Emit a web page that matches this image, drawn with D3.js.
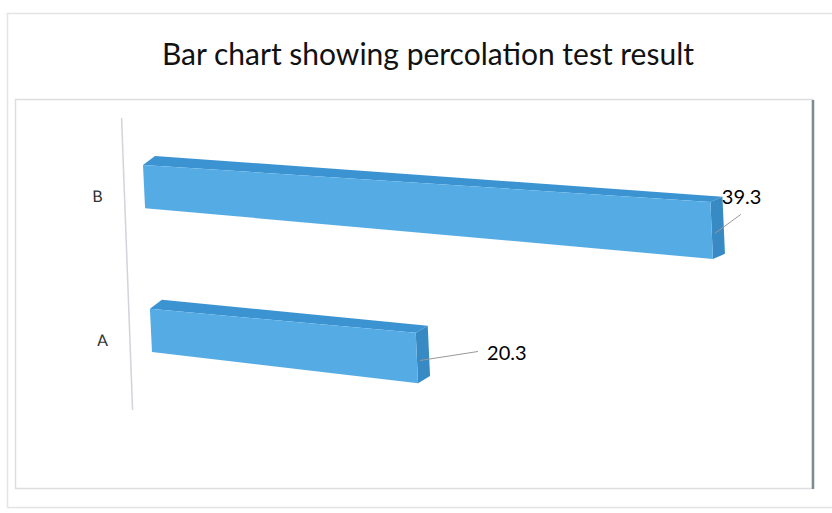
<!DOCTYPE html>
<html><head><meta charset="utf-8">
<script src="https://cdn.jsdelivr.net/npm/d3@7"></script>
<style>body{margin:0;background:#fff;}</style>
</head><body>
<svg id="chart" width="832" height="513"></svg>
<script>
// ---- data ----
const title = "Bar chart showing percolation test result";
const categories = ["B", "A"];          // top to bottom
const values = [39.3, 20.3];
const valueLabels = ["39.3", "20.3"];

// ---- layout / style ----
const svg = d3.select("#chart");
const font = "Lato, 'Open Sans', sans-serif";
const colors = { front: "#55ace5", top: "#3b94d1", end: "#378ac3" };

// flat scales
const xScale = d3.scaleLinear().domain([0, 40]).range([0, 448]);
const yScale = d3.scaleBand().domain(categories).range([93, 424])
  .paddingInner(0.7).paddingOuter(0.5);

// perspective projection parameters
const P = { c: 135.06, b: 0.0481, g: -0.000407, s0: 0.0839, s1: 0.000149, k: 0.000732 };
const depth = { dx: 12, dy0: -9, dySlope: 0.0068 };
const refRow = yScale(categories[0]);

function projX(xs, v) { return (xs + P.b * v + P.c) / (1 + P.g * xs); }
function projY(xs, v, rowTop) {
  return v + xs * (P.s0 + P.s1 * (rowTop - refRow)) + (v - rowTop) * P.k * xs;
}
function pt(xs, v, rowTop) { return [projX(xs, v), projY(xs, v, rowTop)]; }
function back(p, x0) {
  return [p[0] + depth.dx, p[1] + depth.dy0 + depth.dySlope * (p[0] - x0)];
}

// card & panel
svg.append("rect").attr("x", 7.5).attr("y", 13.5).attr("width", 850).attr("height", 494)
  .attr("fill", "#fff").attr("stroke", "#e4e4e4").attr("stroke-width", 1.5);
svg.append("rect").attr("x", 15.5).attr("y", 99.5).attr("width", 797).attr("height", 389)
  .attr("fill", "#fff").attr("stroke", "#dedee2").attr("stroke-width", 1.5);
svg.append("line").attr("x1", 813).attr("x2", 813).attr("y1", 100).attr("y2", 489)
  .attr("stroke", "#7d8b91").attr("stroke-width", 2.5);

// title
svg.append("text").attr("x", 428).attr("y", 65).attr("text-anchor", "middle")
  .attr("font-family", font).attr("font-size", 30).attr("fill", "#111").text(title);

// category axis (slanted)
const axisG = svg.append("g").attr("transform", "translate(117.5,10) skewX(2.16)");
axisG.call(d3.axisLeft(yScale).tickSize(0).tickPadding(22));
axisG.select(".domain").remove();
axisG.selectAll(".tick text").attr("font-family", font).attr("font-size", 16).attr("fill", "#333");
axisG.append("line").attr("x1", 0).attr("x2", 0).attr("y1", 108).attr("y2", 400)
  .attr("stroke", "#d2d3dc").attr("stroke-width", 1.5);

// bars
const labelLayout = {
  B: { dx: 26, dy: -19, tx: -19, ty: -10 },
  A: { dx: 58, dy: -9, tx: 9, ty: 9 }
};
const line = d3.line();
const data = categories.map((c, i) => ({ cat: c, value: values[i], label: valueLabels[i] }));

const barG = svg.append("g");
data.forEach(d => {
  const top = yScale(d.cat), bot = top + yScale.bandwidth(), mid = (top + bot) / 2;
  const x0 = 0, x1 = xScale(d.value);
  const ftl = pt(x0, top, top), ftr = pt(x1, top, top), fbr = pt(x1, bot, top), fbl = pt(x0, bot, top);
  const left = ftl[0];
  const btl = back(ftl, left), btr = back(ftr, left), bbr = back(fbr, left);
  const g = barG.append("g");
  g.append("path").attr("d", line([ftl, ftr, btr, btl]) + "Z").attr("fill", colors.top);
  g.append("path").attr("d", line([ftr, fbr, bbr, btr]) + "Z").attr("fill", colors.end);
  g.append("path").attr("d", line([ftl, ftr, fbr, fbl]) + "Z").attr("fill", colors.front);

  // leader + label
  const fm = pt(x1, mid + 3, top);
  const s = [fm[0] + 3, fm[1] - 1];
  const L = labelLayout[d.cat];
  const e = [s[0] + L.dx, s[1] + L.dy];
  svg.append("path").attr("d", line([s, e])).attr("stroke", "#999").attr("stroke-width", 1).attr("fill", "none");
  svg.append("text").attr("x", e[0] + L.tx).attr("y", e[1] + L.ty)
    .attr("font-family", font).attr("font-size", 20).attr("fill", "#000").text(d.label);
});
</script>
</body></html>
